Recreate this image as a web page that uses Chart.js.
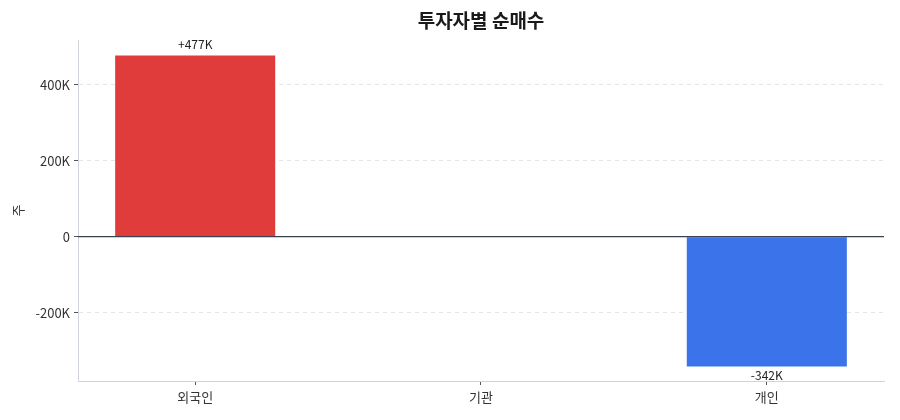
<!DOCTYPE html>
<html>
<head>
<meta charset="utf-8">
<script src="https://cdn.jsdelivr.net/npm/chart.js@4/dist/chart.umd.min.js"></script>
<style>
    html, body { margin: 0; padding: 0; background: #fff; }
    #wrap { width: 900px; height: 420px; }
</style>
</head>
<body>
<div id="wrap"><canvas id="net-chart"></canvas></div>
<script>
const investors = ['외국인', '기관', '개인'];
const netBuy = [477000, 0, -342000];
const barColors = ['#e03c3c', '#8a8f99', '#3b74ea'];
const yTickValues = [-200000, 0, 200000, 400000];

const FONT = '"Noto Sans CJK KR", "Noto Sans", sans-serif';

function fmtK(v) {
    if (v === 0) return '0';
    return Math.round(v / 1000) + 'K';
}

// value labels, zero line and title
const extras = {
    id: 'extras',
    afterDatasetsDraw(chart) {
        const ctx = chart.ctx;
        const xs = chart.scales.x;
        const ys = chart.scales.y;
        const area = chart.chartArea;

        const y0 = ys.getPixelForValue(0);
        ctx.save();
        ctx.strokeStyle = '#3a4252';
        ctx.lineWidth = 1.3;
        ctx.beginPath();
        ctx.moveTo(area.left, y0);
        ctx.lineTo(area.right, y0);
        ctx.stroke();

        ctx.font = '12px ' + FONT;
        ctx.fillStyle = '#222';
        ctx.textAlign = 'center';
        netBuy.forEach((v, i) => {
            if (!v) return;
            const x = xs.getPixelForValue(i);
            const y = ys.getPixelForValue(v);
            const txt = (v > 0 ? '+' : '-') + Math.round(Math.abs(v) / 1000) + 'K';
            if (v > 0) {
                ctx.textBaseline = 'bottom';
                ctx.fillText(txt, x, y - 5);
            } else {
                ctx.textBaseline = 'top';
                ctx.fillText(txt, x, y + 3);
            }
        });

        ctx.font = 'bold 19px ' + FONT;
        ctx.fillStyle = '#1a1a1a';
        ctx.textBaseline = 'middle';
        ctx.fillText('투자자별 순매수', (area.left + area.right) / 2, 21);
        ctx.restore();
    }
};

new Chart(document.getElementById('net-chart').getContext('2d'), {
    type: 'bar',
    data: {
        datasets: [{
            label: '순매수',
            data: netBuy.map((v, i) => ({ x: i, y: v })),
            backgroundColor: barColors,
            borderWidth: 0,
            barPercentage: 0.56,
            categoryPercentage: 1
        }]
    },
    options: {
        responsive: true,
        maintainAspectRatio: false,
        animation: false,
        layout: { padding: { top: 40, right: 16, left: 0, bottom: 0 } },
        plugins: {
            legend: { display: false },
            tooltip: { enabled: false }
        },
        scales: {
            x: {
                type: 'linear',
                offset: false,
                min: -0.41,
                max: 2.41,
                afterBuildTicks: (s) => { s.ticks = investors.map((_, i) => ({ value: i })); },
                afterFit: (s) => { s.height = 39; },
                ticks: {
                    callback: (v) => investors[v],
                    font: { family: FONT, size: 13 },
                    color: '#333',
                    padding: 4
                },
                grid: {
                    display: true,
                    offset: false,
                    drawOnChartArea: false,
                    drawTicks: true,
                    tickLength: 4,
                    tickColor: '#555'
                },
                border: { display: true, color: '#cfd3dc', width: 1 }
            },
            y: {
                min: -380000,
                max: 518000,
                afterBuildTicks: (s) => { s.ticks = yTickValues.map(v => ({ value: v })); },
                afterFit: (s) => { s.width = 78; },
                ticks: {
                    callback: fmtK,
                    font: { family: FONT, size: 13 },
                    color: '#333',
                    padding: 4
                },
                grid: {
                    color: '#e3e6eb',
                    tickLength: 4,
                    tickColor: '#555',
                    tickBorderDash: []
                },
                border: { display: true, color: '#cfd3dc', width: 1, dash: [4, 4] },
                title: {
                    display: true,
                    text: '주',
                    font: { family: FONT, size: 13 },
                    color: '#333',
                    padding: { top: 10, bottom: 0 }
                }
            }
        }
    },
    plugins: [extras]
});
</script>
</body>
</html>
